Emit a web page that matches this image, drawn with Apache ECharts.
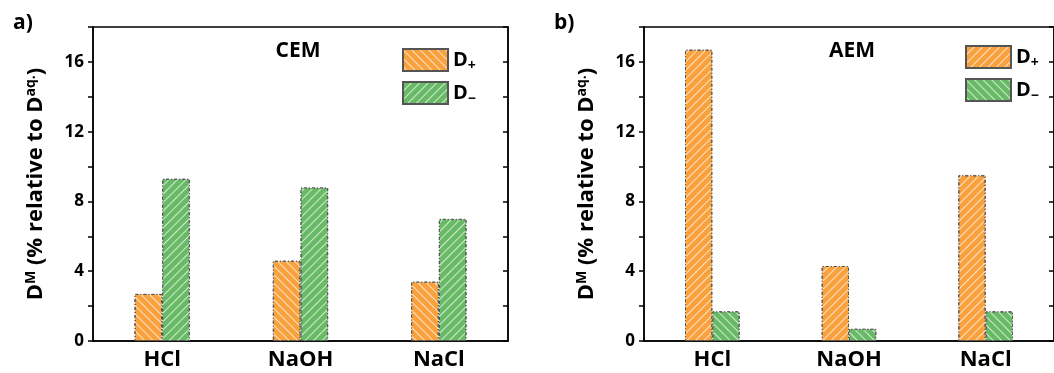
<!DOCTYPE html>
<html><head><meta charset="utf-8">
<script src="https://cdn.jsdelivr.net/npm/echarts@6/dist/echarts.min.js"></script>
<style>html,body{margin:0;padding:0;background:#fff}#c{width:1054px;height:373px}</style>
</head><body><div id="c"></div>
<script>
const categories = ['HCl', 'NaOH', 'NaCl'];
const cemDplus = [2.7, 4.6, 3.4];
const cemDminus = [9.3, 8.8, 7.0];
const aemDplus = [16.7, 4.3, 9.5];
const aemDminus = [1.7, 0.7, 1.7];
const yTicks = [0, 4, 8, 12, 16];
const panelTitles = ['CEM', 'AEM'];
const panelLetters = ['a)', 'b)'];

const FONT = 'Open Sans';
const ORANGE = '#F9A13C';
const GREEN = '#68BA66';
// +PI/4 gives "\" stripes, -PI/4 gives "/" stripes
const decalDown = {symbol: 'rect', symbolSize: 1, dashArrayX: [1, 0], dashArrayY: [1, 5], rotation: Math.PI / 4, color: 'rgba(255,255,255,0.7)'};
const decalUp = {symbol: 'rect', symbolSize: 1, dashArrayX: [1, 0], dashArrayY: [1, 5], rotation: -Math.PI / 4, color: 'rgba(255,255,255,0.7)'};
const border = {borderColor: '#555', borderWidth: 1, borderType: [3, 2, 1, 2]};

const grids = [
  {left: 93, right: 546, top: 27, bottom: 32},
  {left: 644, right: -4, top: 27, bottom: 32}
];

function yAxes(gi) {
  const base = {
    type: 'value', gridIndex: gi, min: 0, max: 18, interval: 2,
    splitLine: {show: false},
    axisLine: {show: true, lineStyle: {color: '#000', width: 1.5}}
  };
  return [
    Object.assign({}, base, {
      position: 'left',
      axisTick: {show: true, inside: false, length: 5, lineStyle: {color: '#000', width: 1.5}},
      axisLabel: {show: true, margin: 9, color: '#000', fontFamily: FONT, fontWeight: 'bold', fontSize: 17,
        formatter: v => (yTicks.indexOf(v) >= 0 ? String(v) : '')},
      name: '{b|D}{sup|M}{b| (% relative to D}{sup|aq.}{b|)}',
      nameLocation: 'middle', nameGap: 45, nameRotate: 90,
      nameTextStyle: {rich: {
        b: {fontFamily: FONT, fontWeight: 'bold', fontSize: 22, color: '#000'},
        sup: {fontFamily: FONT, fontWeight: 'bold', fontSize: 14, color: '#000', verticalAlign: 'top', padding: [0, 0, 10, 0]}
      }}
    }),
    Object.assign({}, base, {
      position: 'right',
      axisTick: {show: true, inside: true, length: 5, lineStyle: {color: '#000', width: 1.5}},
      axisLabel: {show: false}
    })
  ];
}

function xAxis(gi) {
  return {
    type: 'category', gridIndex: gi, data: categories,
    axisTick: {show: false},
    axisLine: {show: true, lineStyle: {color: '#000', width: 1.5}},
    axisLabel: {margin: 8, color: '#000', fontFamily: FONT, fontWeight: 'bold', fontSize: 22}
  };
}

function bar(name, gi, data, color, decal) {
  return {
    name: name, type: 'bar', xAxisIndex: gi, yAxisIndex: gi * 2, data: data,
    barWidth: '20%', barGap: '0%',
    itemStyle: Object.assign({color: color, decal: decal}, border)
  };
}

const legendRich = {
  b: {fontFamily: FONT, fontWeight: 'bold', fontSize: 20, color: '#000'},
  sub: {fontFamily: FONT, fontWeight: 'bold', fontSize: 14, color: '#000', verticalAlign: 'bottom', padding: [12, 0, 0, 0]}
};
function legend(gi, left, top, names) {
  return {
    show: true, orient: 'vertical', left: left, top: top,
    icon: 'rect',
    itemWidth: 45, itemHeight: 22, itemGap: 8,
    data: names,
    formatter: n => n.endsWith('+') ? '{b|D}{sub|+}' : '{b|D}{sub|−}',
    textStyle: {rich: legendRich},
    selectedMode: false
  };
}

const titleStyle = {fontFamily: FONT, fontWeight: 'bold', fontSize: 21, color: '#000'};
const chart = echarts.init(document.getElementById('c'));
chart.setOption({
  animation: false,
  grid: grids.map(g => Object.assign({show: true, borderColor: '#000', borderWidth: 1.5}, g)),
  xAxis: [xAxis(0), xAxis(1)],
  yAxis: [...yAxes(0), ...yAxes(1)],
  legend: [
    legend(0, 397, 43, ['CEM D+', 'CEM D-']),
    legend(1, 960, 40, ['AEM D+', 'AEM D-'])
  ],
  title: [
    {text: panelTitles[0], left: 293, top: 36, textAlign: 'center', textStyle: titleStyle},
    {text: panelTitles[1], left: 847, top: 36, textAlign: 'center', textStyle: titleStyle},
    {text: panelLetters[0], left: 8, top: 8, textStyle: {fontFamily: FONT, fontWeight: 'bold', fontSize: 21, color: '#000'}},
    {text: panelLetters[1], left: 549, top: 8, textStyle: {fontFamily: FONT, fontWeight: 'bold', fontSize: 21, color: '#000'}}
  ],
  series: [
    bar('CEM D+', 0, cemDplus, ORANGE, decalDown),
    bar('CEM D-', 0, cemDminus, GREEN, decalUp),
    bar('AEM D+', 1, aemDplus, ORANGE, decalUp),
    bar('AEM D-', 1, aemDminus, GREEN, decalDown)
  ]
});
</script></body></html>
